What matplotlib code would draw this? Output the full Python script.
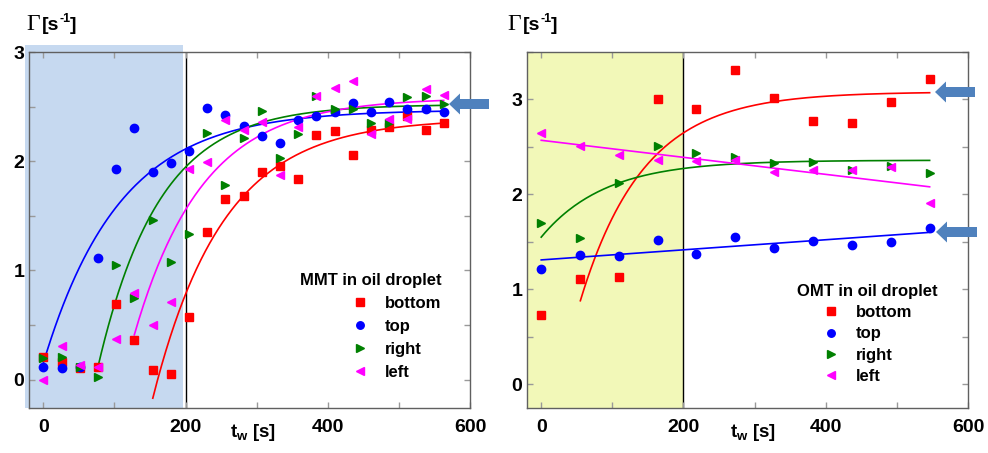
import numpy as np
import matplotlib
matplotlib.use("Agg")
import matplotlib.pyplot as plt
from matplotlib.patches import Rectangle, FancyArrow
from matplotlib.transforms import IdentityTransform
from matplotlib.ticker import MultipleLocator

plt.rcParams['font.family'] = ['Liberation Sans', 'DejaVu Sans']
plt.rcParams['font.weight'] = 'bold'
plt.rcParams['mathtext.fontset'] = 'custom'
plt.rcParams['mathtext.rm'] = 'Liberation Sans:bold'
plt.rcParams['mathtext.it'] = 'Liberation Sans:bold'
plt.rcParams['mathtext.bf'] = 'Liberation Sans:bold'

# ---- MMT (left panel) ----
t_mmt = [0, 26, 51, 77, 102, 128, 154, 179, 205, 230, 256, 282, 307, 333, 358,
         384, 410, 435, 461, 486, 512, 538, 563]
mmt_bottom = [0.21, 0.16, 0.11, 0.12, 0.69, 0.36, 0.09, 0.05, 0.57, 1.35, 1.65, 1.68,
              1.90, 1.96, 1.84, 2.24, 2.28, 2.06, 2.29, 2.31, 2.41, 2.29, 2.35]
mmt_top = [0.12, 0.11, 0.12, 1.11, 1.93, 2.30, 1.90, 1.98, 2.09, 2.49, 2.42, 2.32,
           2.23, 2.17, 2.38, 2.41, 2.45, 2.53, 2.45, 2.54, 2.48, 2.48, 2.45]
mmt_right = [0.20, 0.21, 0.12, 0.02, 1.05, 0.75, 1.46, 1.08, 1.33, 2.26, 1.78, 2.21,
             2.46, 2.03, 2.25, 2.60, 2.48, 2.48, 2.35, 2.35, 2.59, 2.60, 2.52]
mmt_left = [0.00, 0.31, 0.13, 0.12, 0.37, 0.79, 0.50, 0.71, 1.93, 1.99, 2.38, 2.29,
            2.36, 1.87, 2.31, 2.60, 2.67, 2.73, 2.25, 2.39, 2.39, 2.66, 2.61]
# fit: G = A - B*exp(-(t - t0)/tau), drawn from t0 to t_end
mmt_fit_A = [2.39, 2.47, 2.52, 2.58]
mmt_fit_B = [2.56, 2.32, 2.40, 2.17]
mmt_fit_t0 = [154, 0, 77, 128]
mmt_fit_tau = [99, 107, 86, 96]
mmt_fit_end = 563

# ---- OMT (right panel) ----
t_omt = [0, 55, 109, 164, 218, 273, 327, 382, 437, 491, 546]
omt_bottom = [0.73, 1.11, 1.13, 3.01, 2.90, 3.31, 3.02, 2.77, 2.75, 2.97, 3.22]
omt_top = [1.21, 1.36, 1.35, 1.52, 1.37, 1.55, 1.44, 1.51, 1.47, 1.50, 1.65]
omt_right = [1.70, 1.54, 2.12, 2.51, 2.44, 2.39, 2.33, 2.34, 2.26, 2.30, 2.23]
omt_left = [2.65, 2.51, 2.41, 2.36, 2.35, 2.36, 2.24, 2.26, 2.26, 2.29, 1.91]
# exponential fits for bottom/right, linear fits for top/left
omt_exp_A = [3.08, 2.36]
omt_exp_B = [2.20, 0.81]
omt_exp_t0 = [55, 0]
omt_exp_tau = [89, 89.5]
omt_lin_start = [1.31, 2.57]
omt_lin_end = [1.60, 2.08]
omt_fit_end = 546

labels = ['bottom', 'top', 'right', 'left']
colors = ['#ff0000', '#0000ff', '#008000', '#ff00ff']
markers = ['s', 'o', '>', '<']


def sat(t, A, B, t0, tau):
    return A - B * np.exp(-(t - t0) / tau)


fig = plt.figure(figsize=(9.88, 4.53), dpi=100)
ax1 = fig.add_axes([0.0294, 0.0993, 0.4463, 0.7859])
ax2 = fig.add_axes([0.5334, 0.0993, 0.4464, 0.7859])

# shaded windows
ax1.add_patch(Rectangle((-25.3, -0.26), 222, 3.32, facecolor='#c6d9f0',
                        edgecolor='none', zorder=0, clip_on=False))
ax2.axvspan(-20, 200, color='#f2f8b8', zorder=0, lw=0)
for ax in (ax1, ax2):
    ax.axvline(200, color='black', lw=1.0, zorder=1)

# left panel
series_mmt = [mmt_bottom, mmt_top, mmt_right, mmt_left]
for i in range(4):
    ax1.plot(t_mmt, series_mmt[i], ls='none', marker=markers[i], color=colors[i],
             ms=6, label=labels[i], zorder=3)
for i in range(4):
    tt = np.linspace(mmt_fit_t0[i], mmt_fit_end, 200)
    ax1.plot(tt, sat(tt, mmt_fit_A[i], mmt_fit_B[i], mmt_fit_t0[i], mmt_fit_tau[i]),
             color=colors[i], lw=1.2, zorder=2)

# right panel
series_omt = [omt_bottom, omt_top, omt_right, omt_left]
for i in range(4):
    ax2.plot(t_omt, series_omt[i], ls='none', marker=markers[i], color=colors[i],
             ms=6, label=labels[i], zorder=3)
for j, ci in enumerate([0, 2]):
    tt = np.linspace(omt_exp_t0[j], omt_fit_end, 200)
    ax2.plot(tt, sat(tt, omt_exp_A[j], omt_exp_B[j], omt_exp_t0[j], omt_exp_tau[j]),
             color=colors[ci], lw=1.2, zorder=2)
for j, ci in enumerate([1, 3]):
    ax2.plot([0, omt_fit_end], [omt_lin_start[j], omt_lin_end[j]],
             color=colors[ci], lw=1.2, zorder=2)

for ax in (ax1, ax2):
    ax.set_xlim(-20, 600)
    ax.xaxis.set_major_locator(MultipleLocator(200))
    ax.xaxis.set_minor_locator(MultipleLocator(100))
    ax.yaxis.set_major_locator(MultipleLocator(1))
    ax.yaxis.set_minor_locator(MultipleLocator(0.5))
    ax.tick_params(which='both', direction='in', length=4, width=1, color='#999999',
                   top=True, right=True, labelsize=14)
    ax.tick_params(axis='x', pad=8)
    for s in ax.spines.values():
        s.set_color('#606060')
        s.set_linewidth(1.0)
ax1.set_ylim(-0.26, 3.0)
ax2.set_ylim(-0.25, 3.5)

ax1.text(0.508, -0.07, r'$t_w$ [s]', transform=ax1.transAxes, ha='center',
         va='center', fontsize=13.5)
ax2.text(0.512, -0.07, r'$t_w$ [s]', transform=ax2.transAxes, ha='center',
         va='center', fontsize=13.5)

# y-axis title above each panel
for x0 in (26, 507):
    fig.text(x0 / 988, 1 - 25 / 453, 'Γ', family='Liberation Serif', fontweight='normal',
             fontsize=17, va='center')
    fig.text((x0 + 16) / 988, 1 - 25 / 453, '[s', fontsize=14, va='center')
    fig.text((x0 + 33) / 988, 1 - 19 / 453, '-1', fontsize=9, va='center')
    fig.text((x0 + 44) / 988, 1 - 25 / 453, ']', fontsize=14, va='center')

leg1 = ax1.legend(title='MMT in oil droplet', loc='upper left', bbox_to_anchor=(0.614, 0.38),
                  frameon=False, fontsize=12, title_fontsize=12, handlelength=1.0,
                  handletextpad=1.0, labelspacing=0.48, borderpad=0, borderaxespad=0,
                  alignment='right', markerscale=0.9)
leg2 = ax2.legend(title='OMT in oil droplet', loc='upper left', bbox_to_anchor=(0.612, 0.349),
                  frameon=False, fontsize=12, title_fontsize=12, handlelength=1.0,
                  handletextpad=1.0, labelspacing=0.38, borderpad=0, borderaxespad=0,
                  alignment='center', markerscale=0.9)
for leg in (leg1, leg2):
    leg.get_title().set_fontweight('bold')

# highlight arrows (pixel coordinates)
for (xt, xtip, yc) in [(489, 449, 104), (975, 935, 92), (977, 936, 232)]:
    arr = FancyArrow(xt, 453 - yc, xtip - xt, 0, width=10, head_width=21, head_length=11,
                     length_includes_head=True, transform=IdentityTransform(),
                     facecolor='#4f81bd', edgecolor='none', zorder=10)
    fig.add_artist(arr)

fig.savefig('out.png', dpi=100)
